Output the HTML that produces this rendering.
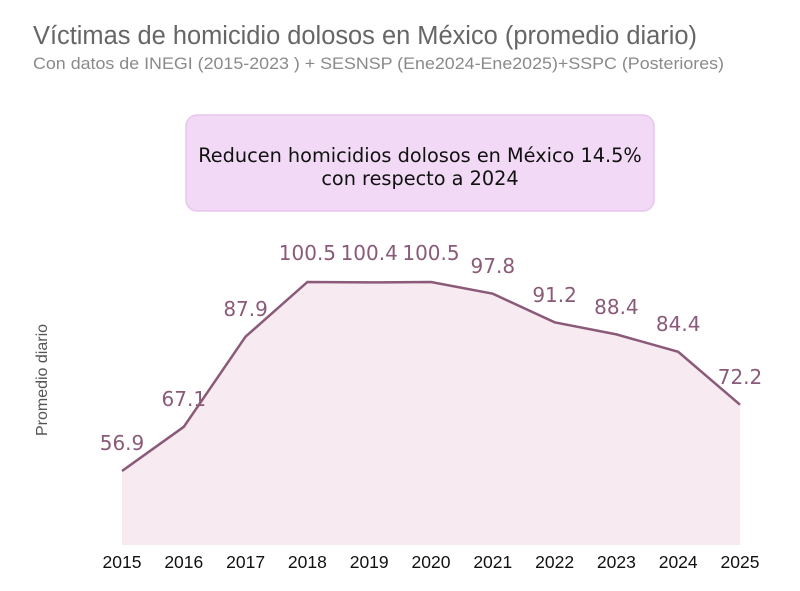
<!DOCTYPE html>
<html><head><meta charset="utf-8"><style>
body{margin:0;background:#fff;width:800px;height:586px;overflow:hidden;font-family:"Liberation Sans",sans-serif}
</style></head><body>
<svg width="800" height="586" xmlns="http://www.w3.org/2000/svg">
<text x="33" y="44" font-size="25.5" fill="#666" textLength="664" lengthAdjust="spacingAndGlyphs" font-family="Liberation Sans,sans-serif">Víctimas de homicidio dolosos en México (promedio diario)</text>
<text x="33" y="69" font-size="17" fill="#8a8a8a" textLength="691" lengthAdjust="spacingAndGlyphs" font-family="Liberation Sans,sans-serif">Con datos de INEGI (2015-2023 ) + SESNSP (Ene2024-Ene2025)+SSPC (Posteriores)</text>
<rect x="186" y="115" width="468" height="96" rx="11" fill="#f2d9f5" stroke="#e8c5ee" stroke-width="1.5"/>
<text x="420" y="162" font-size="19.3" text-anchor="middle" fill="#111" font-family="DejaVu Sans,sans-serif">Reducen homicidios dolosos en México 14.5%</text>
<text x="420" y="185" font-size="19.3" text-anchor="middle" fill="#111" font-family="DejaVu Sans,sans-serif">con respecto a 2024</text>
<text transform="translate(47,380) rotate(-90)" font-size="16" text-anchor="middle" fill="#555" font-family="Liberation Sans,sans-serif">Promedio diario</text>
<polygon fill="#f7eaf1" points="122,471 183.8,426.8 245.6,336.6 307.4,282 369.2,282.4 431,282 492.8,293.7 554.6,322.3 616.4,334.4 678.2,351.8 740,404.7 740,545 122,545"/>
<polyline fill="none" stroke="#8a5a78" stroke-width="2.5" points="122,471 183.8,426.8 245.6,336.6 307.4,282 369.2,282.4 431,282 492.8,293.7 554.6,322.3 616.4,334.4 678.2,351.8 740,404.7"/>
<g font-size="20" fill="#8a5a78" text-anchor="middle" font-family="DejaVu Sans,sans-serif">
<text x="122" y="450">56.9</text>
<text x="183.8" y="406">67.1</text>
<text x="245.6" y="316">87.9</text>
<text x="307.4" y="260">100.5</text>
<text x="369.2" y="260">100.4</text>
<text x="431" y="260">100.5</text>
<text x="492.8" y="273">97.8</text>
<text x="554.6" y="302">91.2</text>
<text x="616.4" y="314">88.4</text>
<text x="678.2" y="331">84.4</text>
<text x="740" y="384">72.2</text>
</g>
<g font-size="17.5" fill="#111" text-anchor="middle" font-family="Liberation Sans,sans-serif">
<text x="122" y="568">2015</text><text x="183.8" y="568">2016</text><text x="245.6" y="568">2017</text><text x="307.4" y="568">2018</text><text x="369.2" y="568">2019</text><text x="431" y="568">2020</text><text x="492.8" y="568">2021</text><text x="554.6" y="568">2022</text><text x="616.4" y="568">2023</text><text x="678.2" y="568">2024</text><text x="740" y="568">2025</text>
</g>
</svg>
</body></html>
